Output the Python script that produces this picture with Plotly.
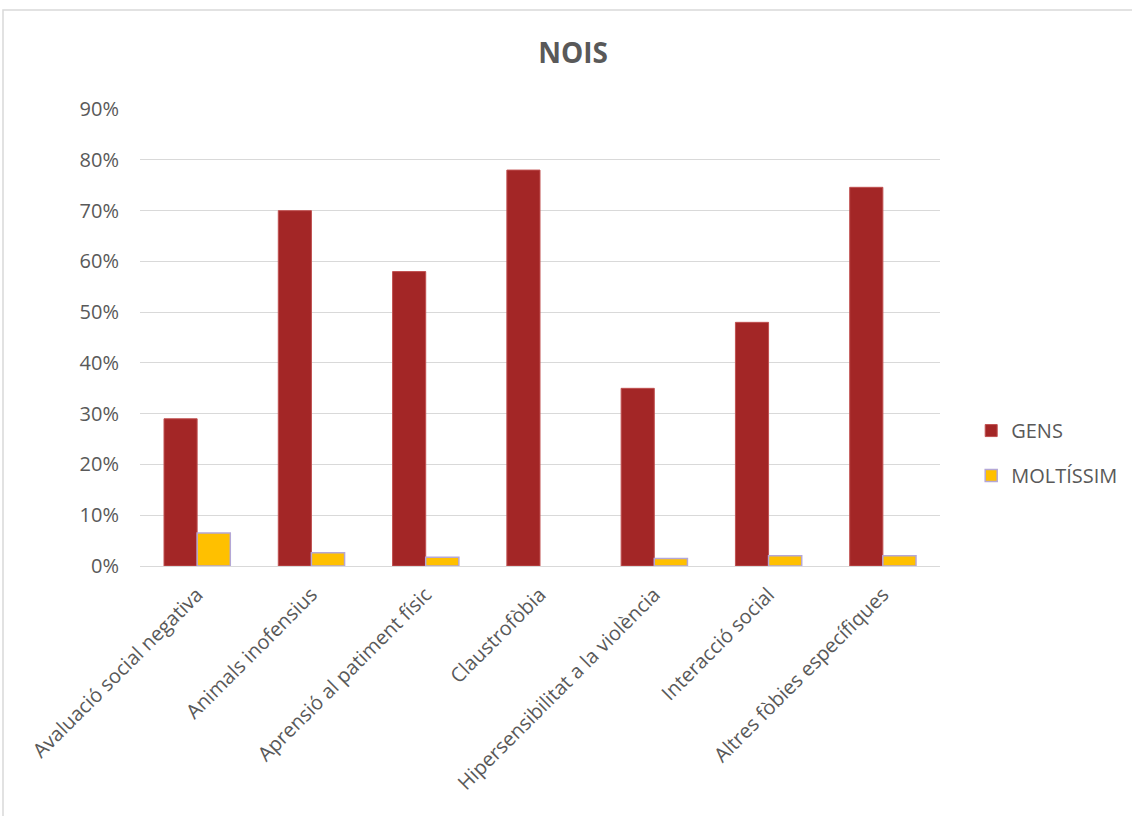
import plotly.graph_objects as go

categories = [
    "Avaluació social negativa",
    "Animals inofensius",
    "Aprensió al patiment físic",
    "Claustrofòbia",
    "Hipersensibilitat a la violència",
    "Interacció social",
    "Altres fòbies específiques",
]
gens = [0.29, 0.70, 0.58, 0.78, 0.35, 0.48, 0.746]
moltissim = [0.065, 0.026, 0.017, 0.0, 0.015, 0.020, 0.020]
y_ticks = [0, 0.1, 0.2, 0.3, 0.4, 0.5, 0.6, 0.7, 0.8, 0.9]
y_tick_labels = ["0%", "10%", "20%", "30%", "40%", "50%", "60%", "70%", "80%", "90%"]

FONT = "Open Sans"
TXT = "#595959"

molt_line_w = [0 if v == 0 else 1.5 for v in moltissim]

fig = go.Figure()
fig.add_trace(go.Bar(
    name="GENS", x=categories, y=gens,
    marker=dict(color="#A32626", line=dict(color="#C05050", width=1)),
    legendgroup="g1",
))
fig.add_trace(go.Bar(
    name="MOLTÍSSIM", x=categories, y=moltissim,
    marker=dict(color="#FFC000", line=dict(color="#B4A7D6", width=molt_line_w)),
    legendgroup="g2",
))

fig.update_layout(
    width=1132, height=816,
    margin=dict(l=140, r=192, t=109, b=250, autoexpand=False),
    paper_bgcolor="white", plot_bgcolor="white",
    barmode="group", bargap=0.42, bargroupgap=0,
    title=dict(text="<b>NOIS</b>", x=573 / 1132, xanchor="center",
               y=1 - 53 / 816, yanchor="middle",
               font=dict(family=FONT, size=28, color=TXT)),
    font=dict(family=FONT, size=20, color=TXT),
    legend=dict(x=1.039, y=0.339, xanchor="left", yanchor="top",
                font=dict(family=FONT, size=20, color=TXT),
                tracegroupgap=16, itemwidth=30),
    xaxis=dict(tickangle=-45, showgrid=False, showline=True, linecolor="#D9D9D9",
               linewidth=1, ticks="", ticklabelstandoff=8,
               tickfont=dict(family=FONT, size=20, color=TXT)),
    yaxis=dict(range=[0, 0.9003], tickvals=y_ticks, ticktext=y_tick_labels,
               showgrid=True, gridcolor="#D9D9D9", gridwidth=1, zeroline=False,
               showline=False, ticks="", ticklabelstandoff=20,
               tickfont=dict(family=FONT, size=20, color=TXT)),
    showlegend=True,
)

fig.add_shape(type="rect", xref="paper", yref="paper",
              x0=(3 - 140) / 800, x1=(1140 - 140) / 800,
              y0=(566 - 830) / 457, y1=(566 - 10) / 457,
              line=dict(color="#D9D9D9", width=1.5), fillcolor="rgba(0,0,0,0)",
              layer="below")

fig.write_html("out.html")
